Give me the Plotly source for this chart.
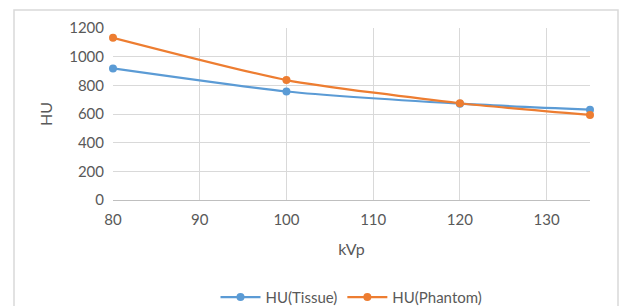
import plotly.graph_objects as go

kvp = [80, 100, 120, 135]
hu_tissue = [918, 757, 672, 630]
hu_phantom = [1132, 837, 675, 593]
x_ticks = [80, 90, 100, 110, 120, 130]
y_ticks = [0, 200, 400, 600, 800, 1000, 1200]

W, H = 621, 306
ml, mr, mt, mb = 113, 31, 28, 106

FONT = "Lato, Open Sans, Liberation Sans, sans-serif"

fig = go.Figure()
fig.add_trace(go.Scatter(x=kvp, y=hu_tissue, name="HU(Tissue)", mode="lines+markers",
                         line=dict(color="#5B9BD5", width=2.25, shape="spline", smoothing=0.6),
                         marker=dict(size=8, color="#5B9BD5"), cliponaxis=False))
fig.add_trace(go.Scatter(x=kvp, y=hu_phantom, name="HU(Phantom)", mode="lines+markers",
                         line=dict(color="#ED7D31", width=2.25, shape="spline", smoothing=0.6),
                         marker=dict(size=8, color="#ED7D31"), cliponaxis=False))

grid = "#D9D9D9"
tick_font = dict(family=FONT, size=15, color="#595959")
fig.update_layout(
    width=W, height=H,
    margin=dict(l=ml, r=mr, t=mt, b=mb, pad=0, autoexpand=False),
    paper_bgcolor="white", plot_bgcolor="white",
    showlegend=True,
    legend=dict(orientation="h", x=0.5, xanchor="center", y=-0.47, yanchor="top",
                font=dict(family=FONT, size=15, color="#595959"),
                itemwidth=40),
    xaxis=dict(range=[80, 135], tickvals=x_ticks, showgrid=True, gridcolor=grid, gridwidth=1,
               zeroline=False, showline=True, linecolor="#BFBFBF", linewidth=1,
               tickfont=tick_font, ticks="", ticklabelstandoff=6, automargin=False,
               title=dict(text="kVp", font=dict(family=FONT, size=16, color="#595959"), standoff=16)),
    yaxis=dict(range=[0, 1200], tickvals=y_ticks, showgrid=True, gridcolor=grid, gridwidth=1,
               zeroline=False, showline=False, automargin=False,
               tickfont=tick_font, ticks="", ticklabelstandoff=8,
               title=dict(text="HU", font=dict(family=FONT, size=16, color="#595959"), standoff=12)),
)

# outer chart border
fig.add_shape(type="rect", xref="paper", yref="paper",
              x0=(14 - ml) / (W - ml - mr), x1=(618 - ml) / (W - ml - mr),
              y0=(H - mb - 320) / (H - mt - mb), y1=(H - mb - 10) / (H - mt - mb),
              line=dict(color="#D9D9D9", width=1.5), layer="below")

fig.write_html("out.html", config={"displayModeBar": False},
               post_script="document.body.style.margin='0';document.body.style.overflow='hidden';")
